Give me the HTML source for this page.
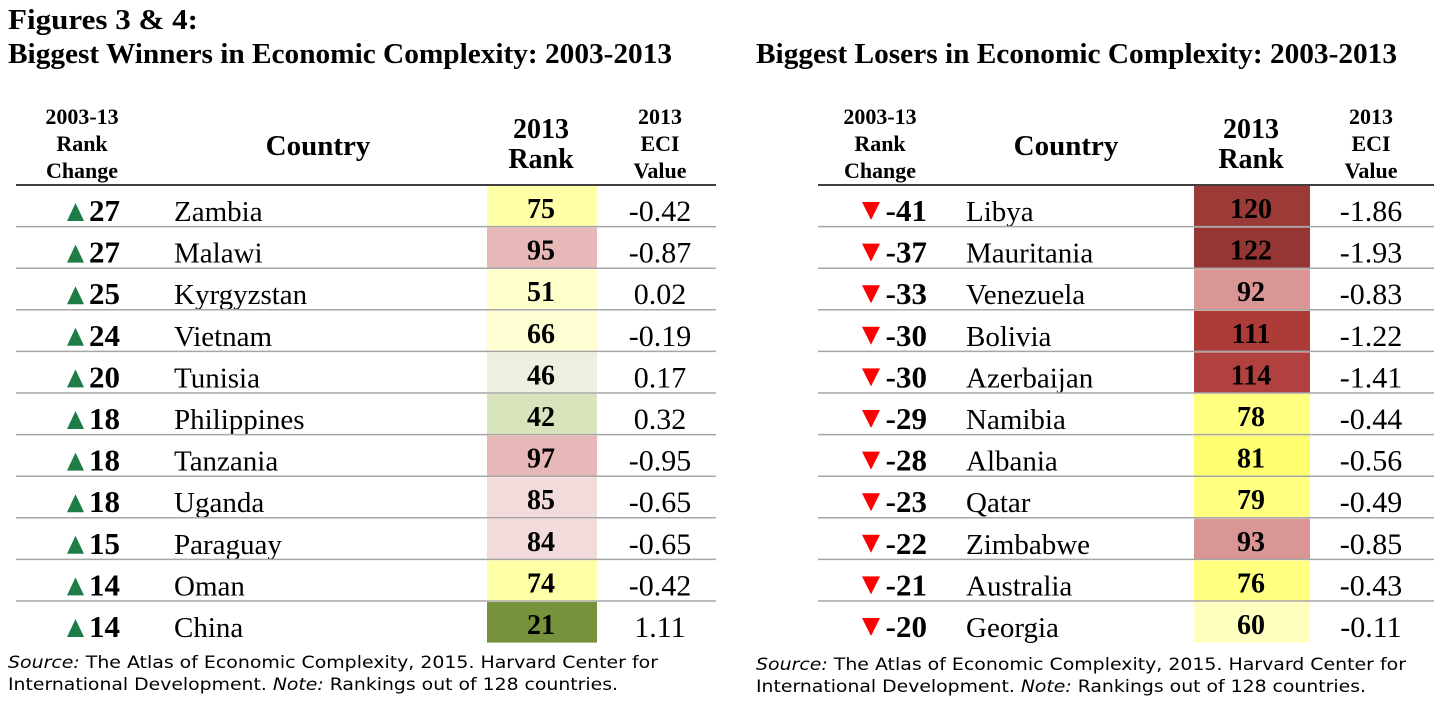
<!DOCTYPE html>
<html><head><meta charset="utf-8"><style>
html,body{margin:0;padding:0;background:#fff;}
svg{display:block;font-family:"Liberation Serif",serif;}
</style></head><body>
<svg id="s" width="1453" height="708" viewBox="0 0 1453 708">
<text x="8" y="29" font-size="29" font-weight="bold" textLength="190" lengthAdjust="spacingAndGlyphs">Figures 3 &amp; 4:</text>
<text x="8" y="63" font-size="28" font-weight="bold" textLength="664" lengthAdjust="spacingAndGlyphs">Biggest Winners in Economic Complexity: 2003-2013</text>
<text x="756" y="63" font-size="28" font-weight="bold" textLength="641" lengthAdjust="spacingAndGlyphs">Biggest Losers in Economic Complexity: 2003-2013</text>
<g id="L"></g>
<g id="R"></g>
<text x="8" y="668" font-family="DejaVu Sans,sans-serif" font-size="17" textLength="650" lengthAdjust="spacingAndGlyphs"><tspan font-style="italic">Source:</tspan> The Atlas of Economic Complexity, 2015. Harvard Center for</text>
<text x="8" y="690" font-family="DejaVu Sans,sans-serif" font-size="17" textLength="610" lengthAdjust="spacingAndGlyphs">International Development. <tspan font-style="italic">Note:</tspan> Rankings out of 128 countries.</text>
<text x="756" y="670" font-family="DejaVu Sans,sans-serif" font-size="17" textLength="650" lengthAdjust="spacingAndGlyphs"><tspan font-style="italic">Source:</tspan> The Atlas of Economic Complexity, 2015. Harvard Center for</text>
<text x="756" y="692" font-family="DejaVu Sans,sans-serif" font-size="17" textLength="610" lengthAdjust="spacingAndGlyphs">International Development. <tspan font-style="italic">Note:</tspan> Rankings out of 128 countries.</text>
</svg>
<script>
const winCountries=["Zambia","Malawi","Kyrgyzstan","Vietnam","Tunisia","Philippines","Tanzania","Uganda","Paraguay","Oman","China"];
const winChange=[27,27,25,24,20,18,18,18,15,14,14];
const winRank=[75,95,51,66,46,42,97,85,84,74,21];
const winEci=["-0.42","-0.87","0.02","-0.19","0.17","0.32","-0.95","-0.65","-0.65","-0.42","1.11"];
const winColors=["#ffffa8","#e6b8b7","#ffffcc","#fffdd2","#ebf1de","#d8e4bc","#e6b8b7","#f2dcdb","#f2dcdb","#ffffa8","#76933c"];
const loseCountries=["Libya","Mauritania","Venezuela","Bolivia","Azerbaijan","Namibia","Albania","Qatar","Zimbabwe","Australia","Georgia"];
const loseChange=[-41,-37,-33,-30,-30,-29,-28,-23,-22,-21,-20];
const loseRank=[120,122,92,111,114,78,81,79,93,76,60];
const loseEci=["-1.86","-1.93","-0.83","-1.22","-1.41","-0.44","-0.56","-0.49","-0.85","-0.43","-0.11"];
const loseColors=["#9c3a37","#963634","#da9694","#ad3c39","#b0413e","#ffff80","#ffff70","#ffff80","#da9694","#ffff80","#ffffc0"];
const NS="http://www.w3.org/2000/svg";
function mk(p,tag,a,txt){const e=document.createElementNS(NS,tag);for(const k in a)e.setAttribute(k,a[k]);if(txt!==undefined)e.textContent=txt;p.appendChild(e);return e;}
const top0=185,rowH=41.6;
function rowY(i){return top0+i*rowH;}
function build(g,cfg,countries,change,rank,eci,colors,up){
  const h=[["2003-13",124],["Rank",151],["Change",178]];
  h.forEach(([t,y])=>{const e=mk(g,"text",{x:cfg.chC,y:y,"font-size":22,"font-weight":"bold","text-anchor":"middle"},t);});
  let e=mk(g,"text",{x:cfg.coC,y:155,"font-size":29,"font-weight":"bold","text-anchor":"middle"},"Country");
  
  [["2013",138],["Rank",168]].forEach(([t,y])=>{const e=mk(g,"text",{x:cfg.rkC,y:y,"font-size":28,"font-weight":"bold","text-anchor":"middle"},t);});
  [["2013",124],["ECI",151],["Value",178]].forEach(([t,y])=>{const e=mk(g,"text",{x:cfg.ecC,y:y,"font-size":22,"font-weight":"bold","text-anchor":"middle"},t);});
  countries.forEach((c,i)=>{
    const y=rowY(i);
    const r=mk(g,"rect",{x:cfg.rkX,y:y+1,width:cfg.rkW,height:rowH-1,fill:colors[i]});
    
    if(i>0){const l=mk(g,"line",{x1:cfg.x1,x2:cfg.x2,y1:y,y2:y,stroke:"#a6a6a6","stroke-width":1.5});}
    const b=y+36;
    const tx=cfg.triX;
    const tri=up?`${tx},${b} ${tx+17},${b} ${tx+8.5},${b-18}`:`${tx},${b-19} ${tx+18},${b-19} ${tx+9},${b-1}`;
    const p=mk(g,"polygon",{points:tri,fill:up?"#1e7d46":"#ff0000"});
    
    let t=mk(g,"text",{x:cfg.chR,y:b,"font-size":31,"font-weight":"bold","text-anchor":"end"},String(change[i]));
    
    t=mk(g,"text",{x:cfg.coX,y:b,"font-size":29},c);
    
    t=mk(g,"text",{x:cfg.rkC,y:b-3,"font-size":28,"font-weight":"bold","text-anchor":"middle"},String(rank[i]));
    
    t=mk(g,"text",{x:cfg.ecC,y:b,"font-size":30,"text-anchor":"middle"},eci[i]);
    
  });
  const hl=mk(g,"line",{x1:cfg.x1,x2:cfg.x2,y1:top0,y2:top0,stroke:"#000","stroke-width":1.5});
  
}
build(document.getElementById("L"),{x1:16,x2:716,chC:82,chR:120,triX:67,coC:318,coX:174,rkX:487,rkW:110,rkC:541,ecC:660},winCountries,winChange,winRank,winEci,winColors,true);
build(document.getElementById("R"),{x1:818,x2:1434,chC:880,chR:927,triX:862,coC:1066,coX:966,rkX:1194,rkW:116,rkC:1251,ecC:1371},loseCountries,loseChange,loseRank,loseEci,loseColors,false);
</script>
</body></html>
